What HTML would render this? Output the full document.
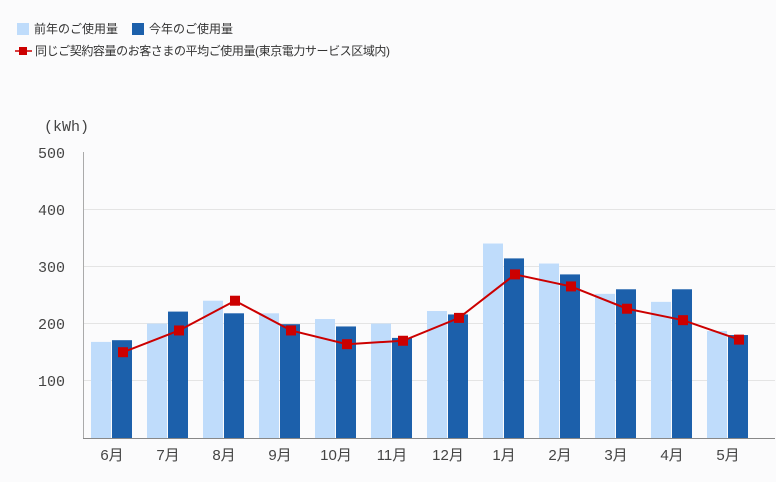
<!DOCTYPE html>
<html><head><meta charset="utf-8"><style>
body{margin:0;background:#fbfbfc;}
svg{display:block;font-family:"Liberation Sans","Noto Sans CJK JP",sans-serif;}
</style></head><body>
<svg width="776" height="482" viewBox="0 0 776 482">
<rect width="776" height="482" fill="#fbfbfc"/>
<rect x="17" y="23" width="12" height="12" fill="#bfdcfb"/>
<text x="34" y="33" font-size="12" fill="#333">前年のご使用量</text>
<rect x="132" y="23" width="12" height="12" fill="#1c60ab"/>
<text x="149" y="33" font-size="12" fill="#333">今年のご使用量</text>
<line x1="15" y1="51" x2="32" y2="51" stroke="#cc0000" stroke-width="1.5"/>
<rect x="19" y="47" width="8" height="8" fill="#cc0000"/>
<text x="35" y="55" font-size="12" fill="#333" textLength="355">同じご契約容量のお客さまの平均ご使用量(東京電力サービス区域内)</text>
<text x="44" y="131" font-size="15" fill="#444" font-family="Liberation Mono,monospace">(kWh)</text>
<g font-size="15" fill="#444" font-family="Liberation Mono,monospace" text-anchor="end">
<text x="65" y="158">500</text><text x="65" y="215">400</text><text x="65" y="272">300</text><text x="65" y="329">200</text><text x="65" y="386">100</text>
</g>
<g stroke="#e4e4e4" stroke-width="1">
<line x1="83" y1="209.5" x2="775" y2="209.5"/><line x1="83" y1="266.5" x2="775" y2="266.5"/><line x1="83" y1="323.5" x2="775" y2="323.5"/><line x1="83" y1="380.5" x2="775" y2="380.5"/>
</g>
<g id="bars"></g>
<line x1="83.5" y1="152" x2="83.5" y2="438" stroke="#aaa"/>
<line x1="83" y1="438.5" x2="775" y2="438.5" stroke="#888"/>
<polyline id="ln" fill="none" stroke="#cc0000" stroke-width="2"/>
<g id="mk"></g>
<g id="lb" font-size="15" fill="#444" text-anchor="middle"></g>
</svg>
<script>
var L=[168,200,240,218,208,200,222,340,305,252,238,187],D=[171,221,218,199,195,175,216,314,286,260,260,180],A=[150,188,240,188,164,170,210,286,265,226,206,172];
var lab=["6月","7月","8月","9月","10月","11月","12月","1月","2月","3月","4月","5月"];
var ns="http://www.w3.org/2000/svg",b=document.getElementById("bars"),mk=document.getElementById("mk"),lb=document.getElementById("lb"),pts=[];
function y(v){return 438-v*0.572;}
function r(p,x,yy,w,h,f){var e=document.createElementNS(ns,"rect");e.setAttribute("x",x);e.setAttribute("y",yy);e.setAttribute("width",w);e.setAttribute("height",h);e.setAttribute("fill",f);p.appendChild(e);}
for(var i=0;i<12;i++){var c=112+56*i;
r(b,c-21,y(L[i]),20,438-y(L[i]),"#bfdcfb");
r(b,c,y(D[i]),20,438-y(D[i]),"#1c60ab");
pts.push((c+11)+","+y(A[i]));
r(mk,c+6,y(A[i])-5,10,10,"#cc0000");
var t=document.createElementNS(ns,"text");t.setAttribute("x",c);t.setAttribute("y",460);t.textContent=lab[i];lb.appendChild(t);}
document.getElementById("ln").setAttribute("points",pts.join(" "));
</script>
</body></html>
